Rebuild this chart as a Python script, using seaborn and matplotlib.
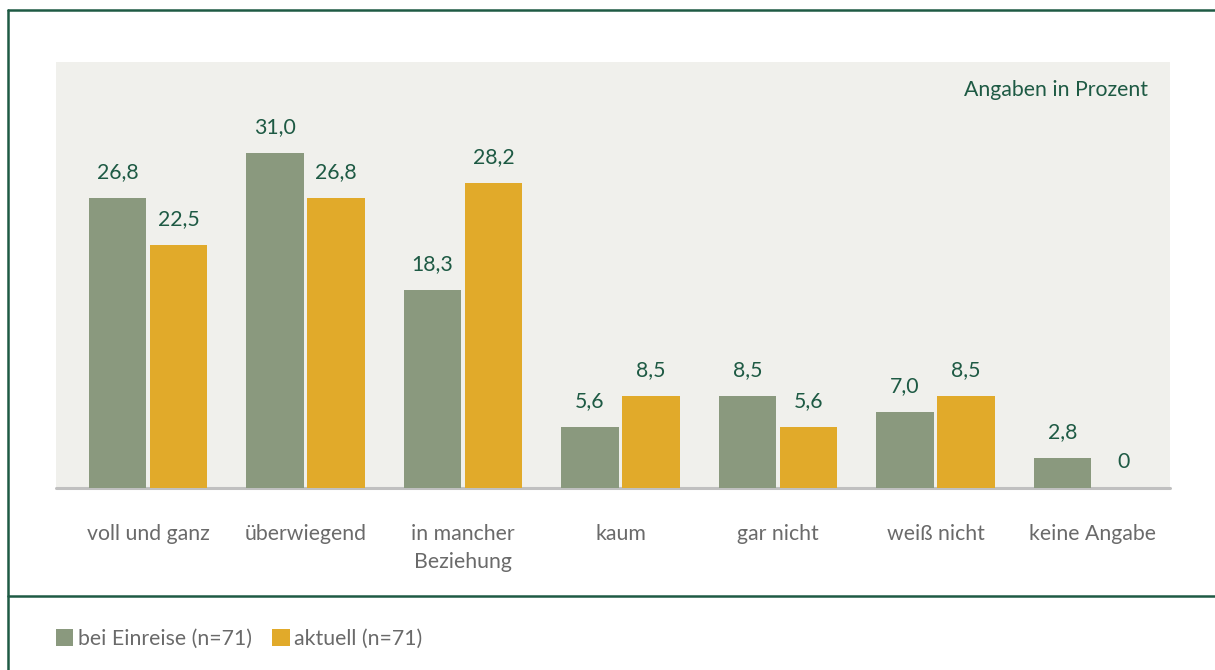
import matplotlib
matplotlib.use("Agg")
import matplotlib.pyplot as plt
from matplotlib.lines import Line2D
from matplotlib.patches import Patch
import pandas as pd
import seaborn as sns

# Survey answers and shares (percent)
categories = ["voll und ganz", "überwiegend", "in mancher\nBeziehung", "kaum",
              "gar nicht", "weiß nicht", "keine Angabe"]
series_names = ["bei Einreise (n=71)", "aktuell (n=71)"]
bei_einreise = [26.8, 31.0, 18.3, 5.6, 8.5, 7.0, 2.8]
aktuell = [22.5, 26.8, 28.2, 8.5, 5.6, 8.5, 0.0]

GREEN = "#8A997E"
YELLOW = "#E1AA2A"
BG = "#F0F0EC"
DARK = "#1E5A44"
GREY_TXT = "#6A6A6A"
BASE = "#C0C0C0"
FONT = "Lato"

df = pd.DataFrame({
    "Kategorie": categories * 2,
    "Reihe": [series_names[0]] * len(categories) + [series_names[1]] * len(categories),
    "Wert": bei_einreise + aktuell,
})

sns.set_theme(style="white")
plt.rcParams["font.family"] = [FONT, "DejaVu Sans"]

W, H = 1215, 670
fig = plt.figure(figsize=(W / 100, H / 100), dpi=100)
fig.patch.set_facecolor("white")

ax = fig.add_axes([56 / W, 1 - 488 / H, (1170 - 56) / W, (488 - 62) / H])
ax.set_facecolor(BG)

sns.barplot(data=df, x="Kategorie", y="Wert", hue="Reihe",
            palette=[GREEN, YELLOW], saturation=1, width=0.773, gap=0.05,
            linewidth=0, edgecolor="none", legend=False, ax=ax, zorder=3)

def fmt(v):
    return "0" if v == 0 else f"{v:.1f}".replace(".", ",")

for cont, vals in zip(ax.containers, [bei_einreise, aktuell]):
    ax.bar_label(cont, labels=[fmt(v) for v in vals], padding=11.5,
                 color=DARK, fontsize=15.3, fontfamily=FONT)

ax.set_xlim(-0.584, 6.489)
ax.set_ylim(0, 39.4)
ax.set_xlabel("")
ax.set_ylabel("")
ax.set_yticks([])
for s in ax.spines.values():
    s.set_visible(False)
ax.axhline(0, color=BASE, lw=2.2, zorder=2, clip_on=False)
ax.tick_params(axis="x", length=0, pad=26, labelsize=15.3, labelcolor=GREY_TXT)
for t in ax.get_xticklabels():
    t.set_linespacing(1.5)

ax.text(0.980, 0.935, "Angaben in Prozent", transform=ax.transAxes,
        ha="right", va="center", fontsize=15.3, color=DARK)

# frame lines
lw = 1.8
fig.add_artist(Line2D([8 / W, 1], [1 - 10 / H, 1 - 10 / H], color=DARK, lw=lw,
                      transform=fig.transFigure))
fig.add_artist(Line2D([8 / W, 8 / W], [0, 1 - 10 / H], color=DARK, lw=lw,
                      transform=fig.transFigure))
fig.add_artist(Line2D([8 / W, 1], [1 - 596 / H, 1 - 596 / H], color=DARK, lw=lw,
                      transform=fig.transFigure))

handles = [Patch(facecolor=GREEN, edgecolor="none"),
           Patch(facecolor=YELLOW, edgecolor="none")]
fig.legend(handles, series_names, loc="center left",
           bbox_to_anchor=(56 / W, 1 - 639 / H), ncol=2, frameon=False,
           fontsize=15.3, labelcolor=GREY_TXT, handlelength=0.82,
           handleheight=0.87, handletextpad=0.22, columnspacing=0.95,
           borderpad=0, borderaxespad=0)

fig.savefig("out.png", dpi=100)
